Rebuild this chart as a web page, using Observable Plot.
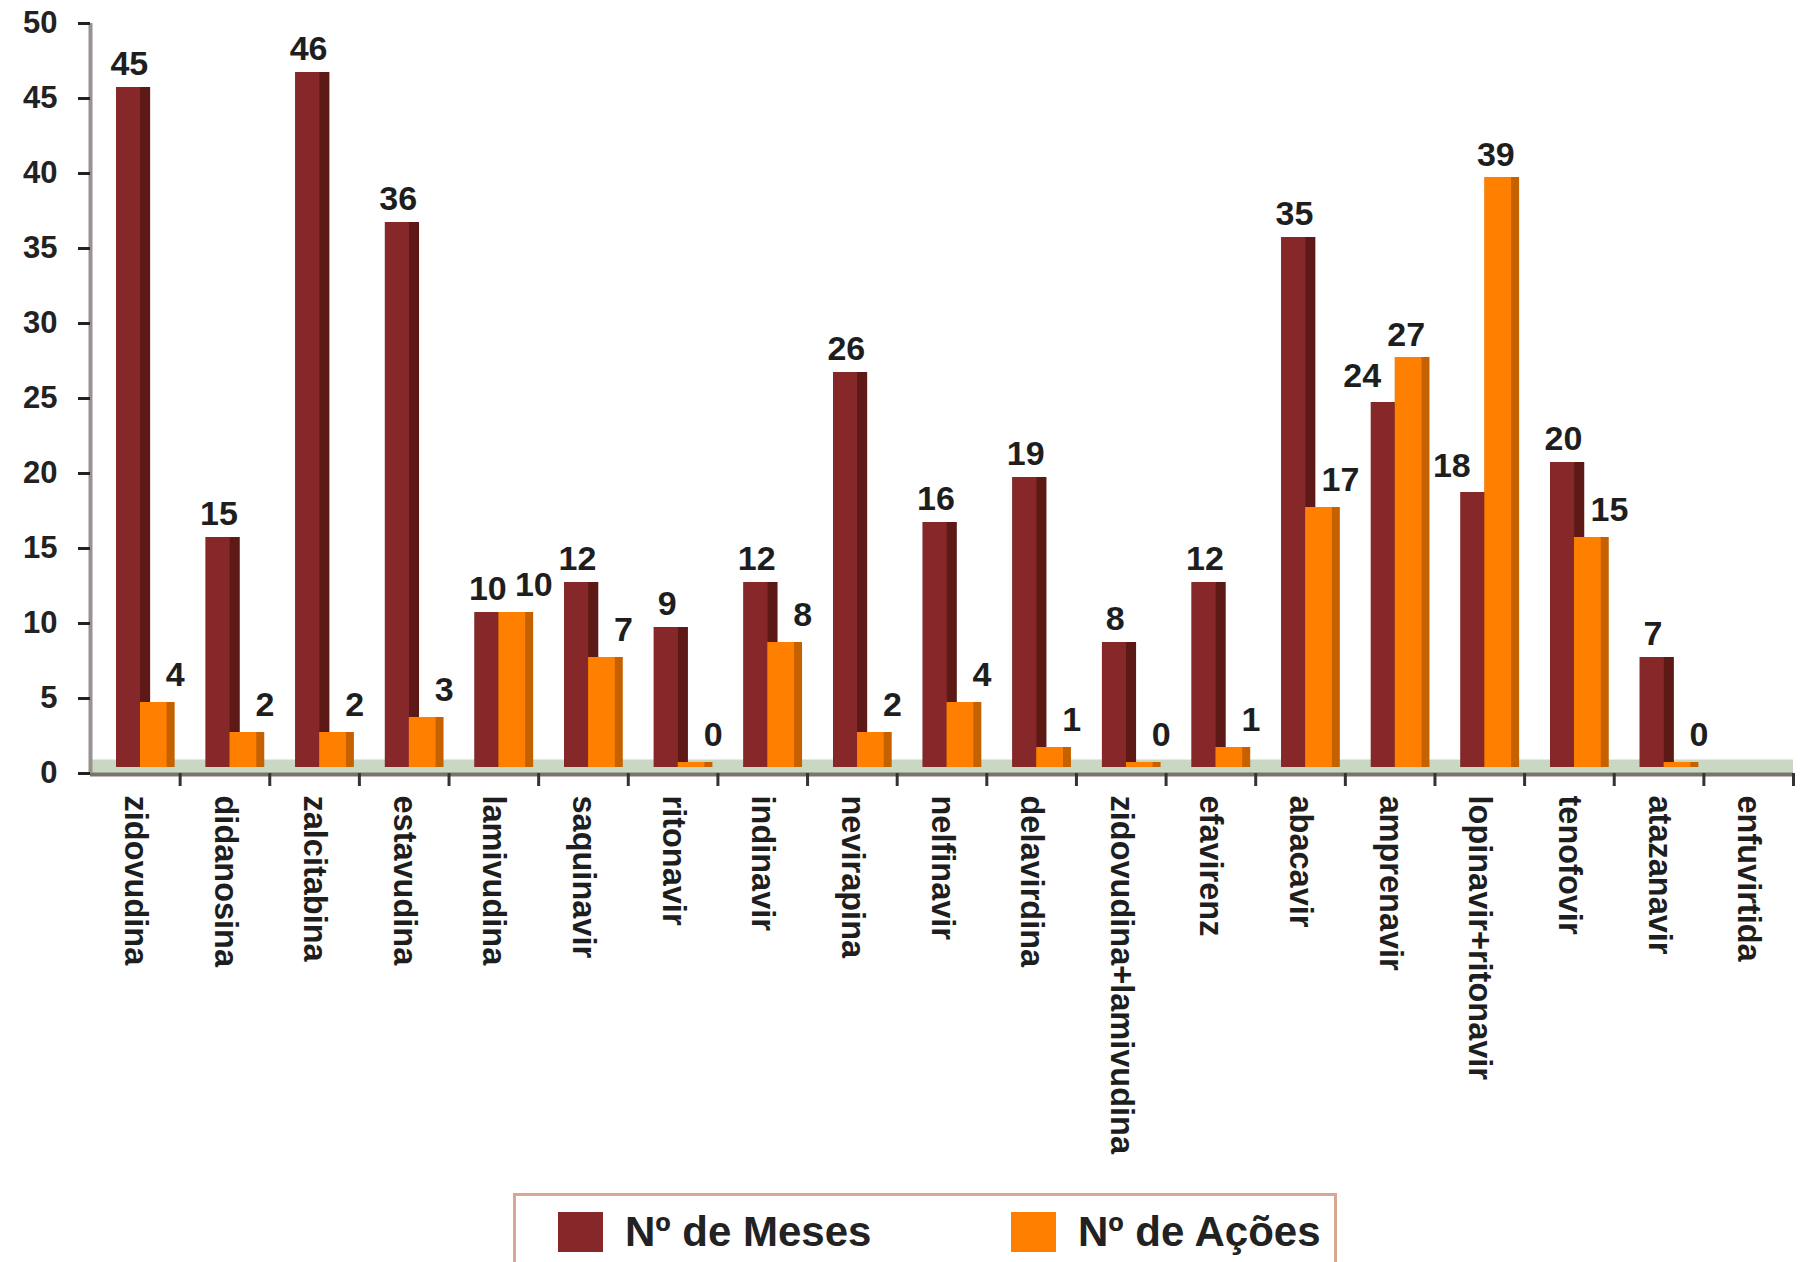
<!DOCTYPE html>
<html>
<head>
<meta charset="utf-8">
<script src="https://cdn.jsdelivr.net/npm/d3@7"></script>
<script src="https://cdn.jsdelivr.net/npm/@observablehq/plot@0.6"></script>
<style>
  html, body { margin: 0; padding: 0; background: #fff; overflow: hidden; }
  body { width: 1802px; height: 1262px; font-family: "Liberation Sans", Arial, sans-serif; }
  #legendWrap { position: relative; width: 1802px; height: 82px; }
  #legend { position: absolute; left: 513px; top: 13px; width: 824px; height: 100px;
            border: 3px solid #d9a694; box-sizing: border-box; background: #fff; }
  .item { position: absolute; top: 12px; display: flex; align-items: center; height: 48px; }
  .sw { width: 45px; height: 40px; margin-right: 22px; }
  .lbl { font-weight: bold; font-size: 42px; color: #222; line-height: 48px; }
</style>
</head>
<body>
<div id="chart"></div>
<div id="legendWrap"><div id="legend">
  <div class="item" style="left:42px"><div class="sw" id="sw1"></div><div class="lbl" id="lb1"></div></div>
  <div class="item" style="left:495px"><div class="sw" id="sw2"></div><div class="lbl" id="lb2"></div></div>
</div></div>
<script>
const categories = ["zidovudina","didanosina","zalcitabina","estavudina","lamivudina","saquinavir","ritonavir","indinavir","nevirapina","nelfinavir","delavirdina","zidovudina+lamivudina","efavirenz","abacavir","amprenavir","lopinavir+ritonavir","tenofovir","atazanavir","enfuvirtida"];
const meses = [45,15,46,36,10,12,9,12,26,16,19,8,12,35,24,18,20,7,null];
const acoes = [4,2,2,3,10,7,0,8,2,4,1,0,1,17,27,39,15,0,null];
const seriesNames = ["Nº de Meses","Nº de Ações"];
const yTicks = [0,5,10,15,20,25,30,35,40,45,50];

const colMaroon = "#862829", colMaroonDark = "#5c1915";
const colOrange = "#ff8000", colOrangeDark = "#c66100";

const rowsM = categories.map((c,i) => ({cat: c, value: meses[i], other: acoes[i]}));
const rowsA = categories.map((c,i) => ({cat: c, value: acoes[i], other: meses[i]}));
const validM = rowsM.filter(d => d.value != null);
const validA = rowsA.filter(d => d.value != null);
const W = 1802, mL = 90, mR = 9;
const bw = (W - mL - mR) / categories.length;
const font = "Liberation Sans, Arial, sans-serif";
const lab = {fontSize: 34, fontWeight: "bold", fill: "#1e1e1e", lineAnchor: "middle"};
const bar3d = {dy: -6, insetTop: -5};

const chart = Plot.plot({
  width: W, height: 1180,
  marginTop: 23, marginLeft: mL, marginRight: mR, marginBottom: 407,
  style: {fontFamily: font, background: "#fff"},
  x: {domain: categories, padding: 0, round: false, label: null},
  y: {domain: [0, 50], label: null},
  marks: [
    // floor
    Plot.ruleY([0], {stroke: "#c9d8c3", strokeWidth: 14, dy: -7}),
    // bars: maroon
    Plot.barY(validM, {x: "cat", y: "value", fill: colMaroonDark, insetLeft: 26, insetRight: 29.5, ...bar3d}),
    Plot.barY(validM, {x: "cat", y: "value", fill: colMaroon, insetLeft: 26, insetRight: 39.5, ...bar3d}),
    // bars: orange
    Plot.barY(validA, {x: "cat", y: "value", fill: colOrangeDark, insetLeft: 50, insetRight: 5, ...bar3d}),
    Plot.barY(validA, {x: "cat", y: "value", fill: colOrange, insetLeft: 50, insetRight: 13, ...bar3d}),
    // baseline
    Plot.ruleY([0], {stroke: "#77756a", strokeWidth: 4, dy: 1}),
    // y axis line
    Plot.ruleX([categories[0]], {dx: -bw/2, y1: 0, y2: 50, stroke: "#999090", strokeWidth: 4}),
    Plot.axisY({ticks: yTicks, tickSize: 12, tickPadding: 21, fontSize: 31, fontWeight: "bold", color: "#222", strokeWidth: 3, label: null}),
    // x tick marks at category boundaries
    Plot.axisX({tickSize: 13, tickFormat: () => "", dx: bw/2, stroke: "#333", strokeWidth: 3, label: null}),
    // x labels
    Plot.axisX({tickSize: 0, tickPadding: 22, tickRotate: 90, fontSize: 32.5, fontWeight: "bold", fill: "#1e1e1e", label: null}),
    // value labels: maroon
    Plot.text(validM.filter(d => !(d.other > d.value)), {x: "cat", y: "value", text: d => String(d.value), dx: -6, dy: -34, ...lab}),
    Plot.text(validM.filter(d => d.other > d.value), {x: "cat", y: "value", text: d => String(d.value), dx: -28, dy: -37, ...lab}),
    // value labels: orange
    Plot.text(validA.filter(d => d.value <= d.other), {x: "cat", y: "value", text: d => String(d.value), dx: 40, dy: -38, ...lab}),
    Plot.text(validA.filter(d => d.value > d.other), {x: "cat", y: "value", text: d => String(d.value), dx: 16, dy: -33, ...lab})
  ]
});
document.getElementById("chart").appendChild(chart);
document.getElementById("sw1").style.background = colMaroon;
document.getElementById("sw2").style.background = colOrange;
document.getElementById("lb1").textContent = seriesNames[0];
document.getElementById("lb2").textContent = seriesNames[1];
</script>
</body>
</html>
